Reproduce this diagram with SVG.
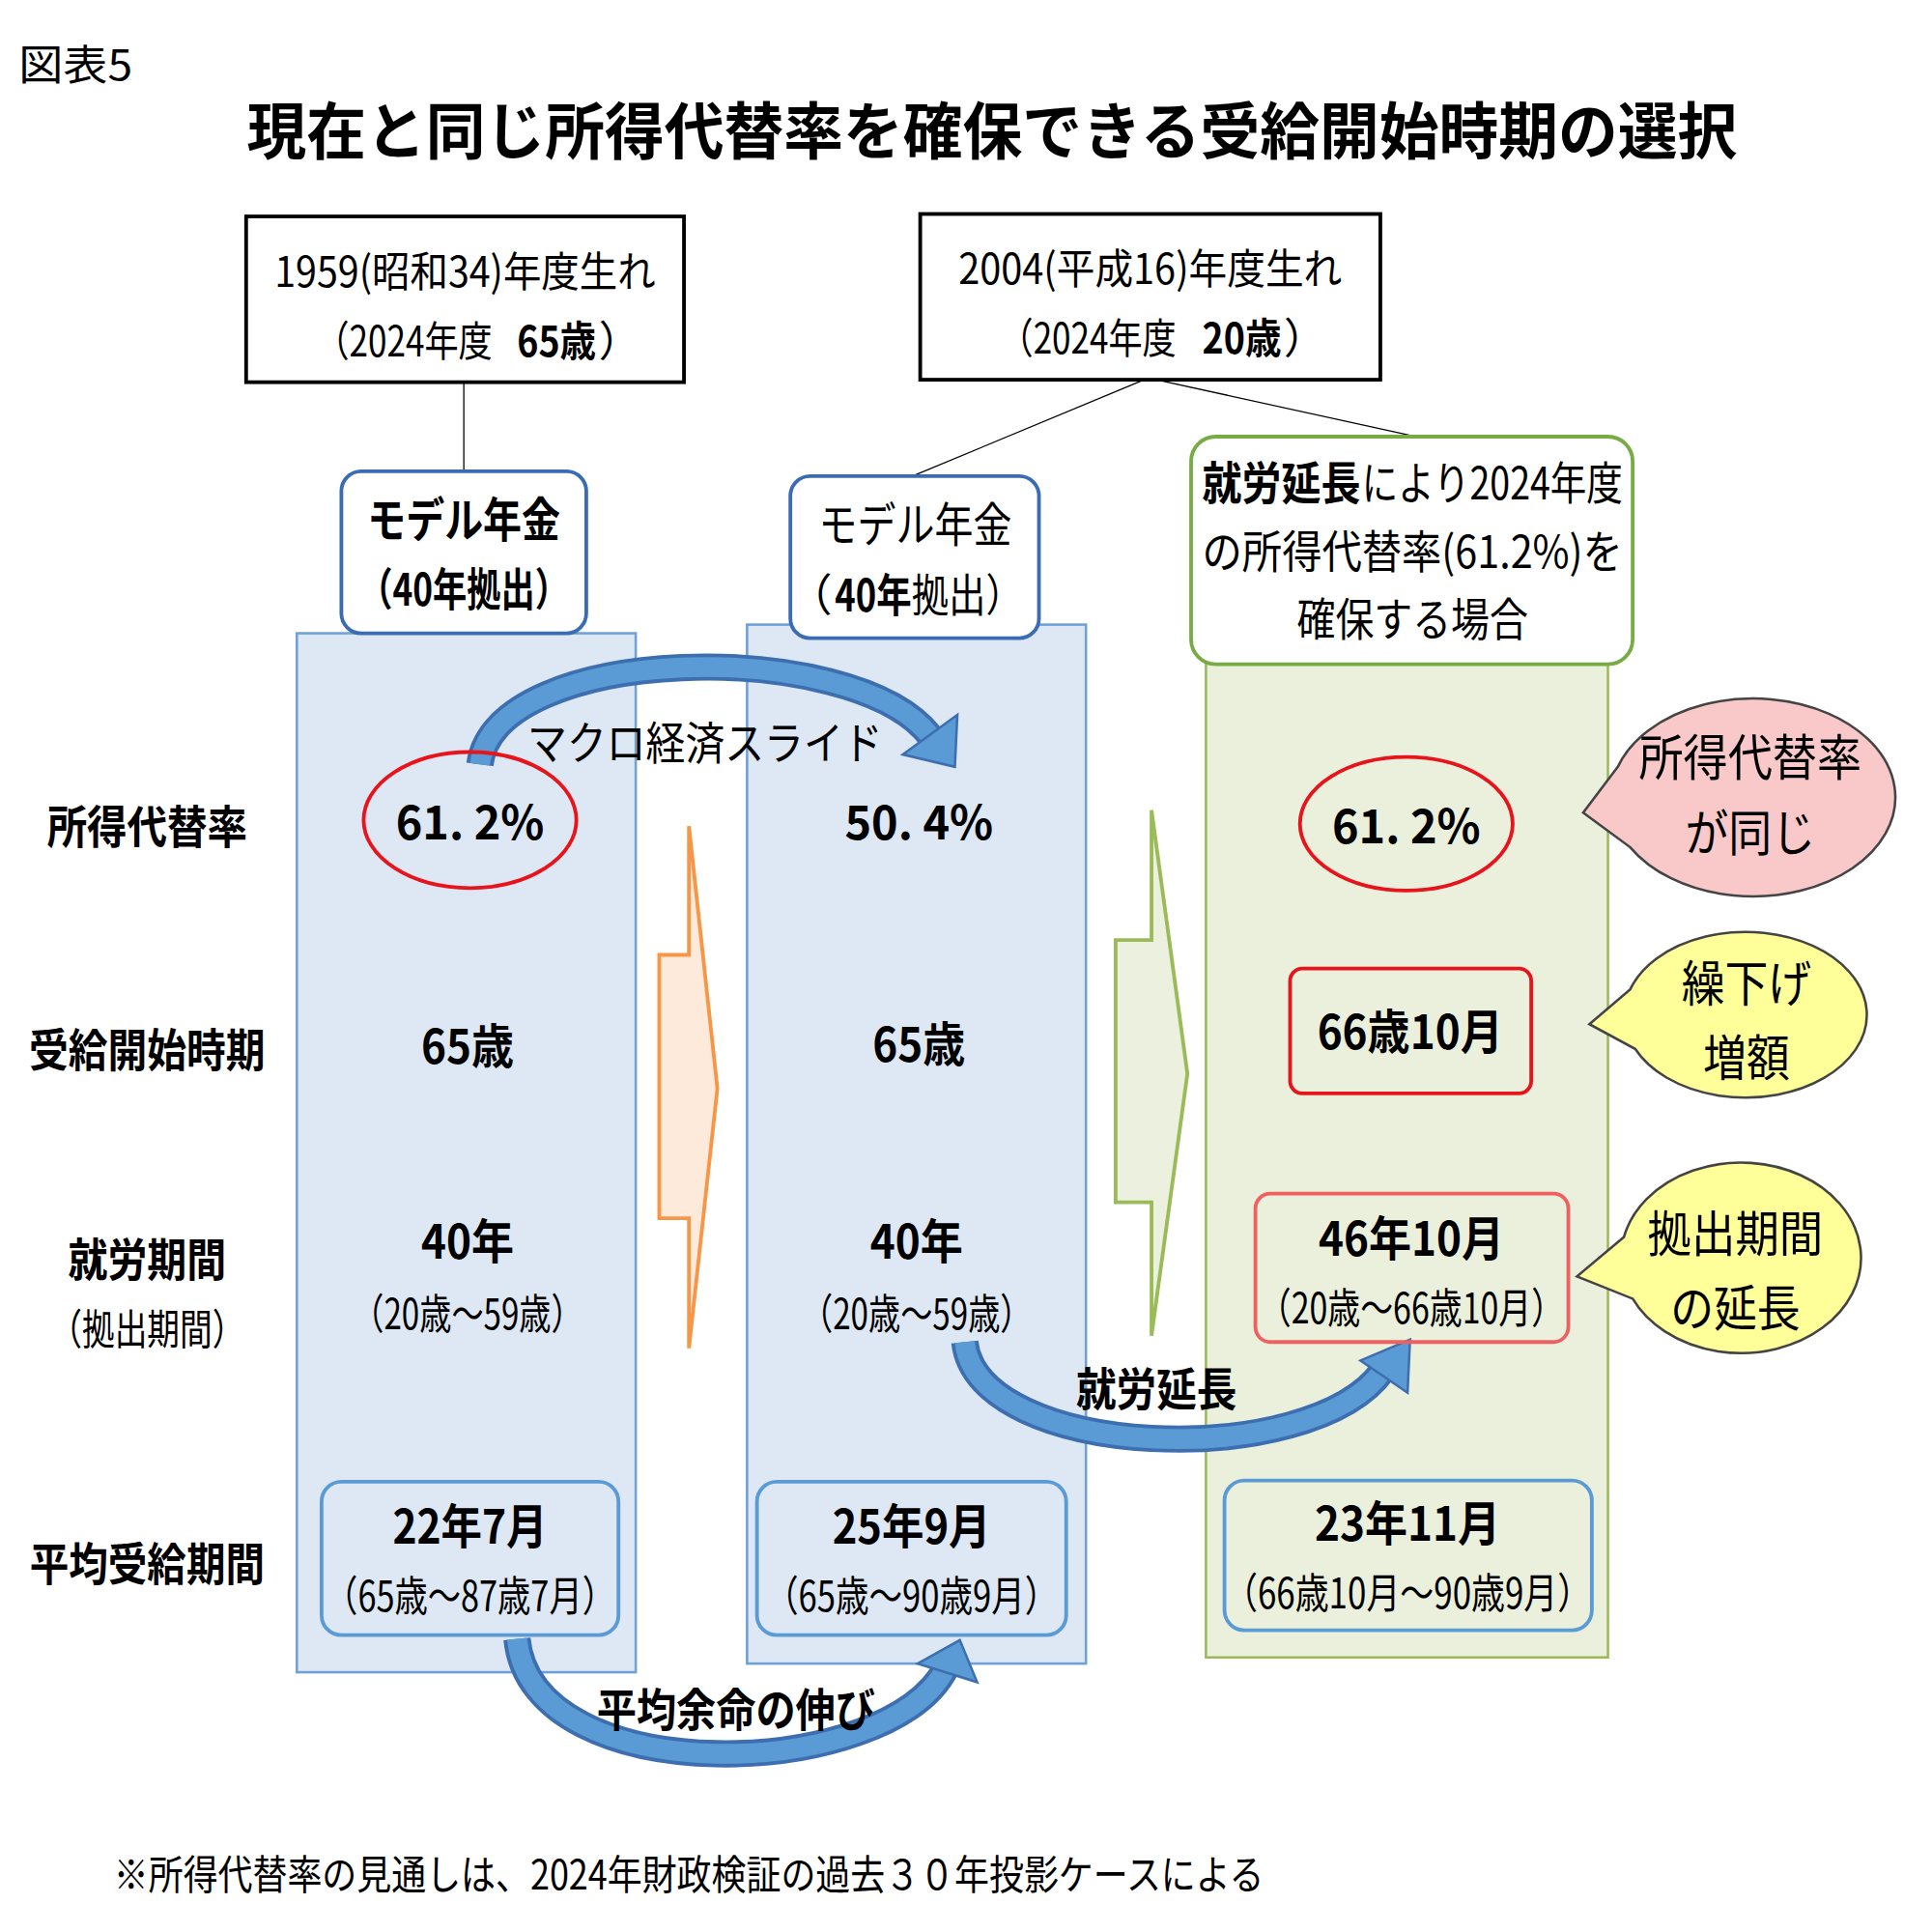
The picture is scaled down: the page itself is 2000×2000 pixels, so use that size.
<svg xmlns="http://www.w3.org/2000/svg" width="2000" height="2000" viewBox="0 0 2000 2000">
<style>
text{font-family:"Noto Sans CJK JP","Liberation Sans",sans-serif;fill:#000;text-anchor:middle}
.s{text-anchor:start}
.b{font-weight:bold}
.bp{fill:#dde8f4;stroke:#6fa0d8;stroke-width:2}
.gp{fill:#ebf0dd;stroke:#9bbb59;stroke-width:2}
.bb{fill:#fff;stroke:#3a6cb5;stroke-width:3}
.rb{fill:none;stroke:#e8141c;stroke-width:3}
.sb{fill:none;stroke:#5b9bd5;stroke-width:3}
.arcO{fill:none;stroke:#3d6fb0;stroke-width:22}
.arcI{fill:none;stroke:#5b9bd5;stroke-width:16}
.ah{fill:#5b9bd5;stroke:#3d6fb0;stroke-width:2}
</style>
<rect width="2000" height="2000" fill="#fff"/>
<g transform="scale(1.2804)">
<text x="15" y="65" class="s" font-size="34" textLength="92" lengthAdjust="spacingAndGlyphs">図表5</text>
<text x="802" y="124" class="b" font-size="50" textLength="1205" lengthAdjust="spacingAndGlyphs">現在と同じ所得代替率を確保できる受給開始時期の選択</text>

<g id="panels">
<rect class="bp" x="240" y="512" width="274" height="840"/>
<rect class="bp" x="604" y="505" width="274" height="840"/>
<rect class="gp" x="975" y="520" width="325" height="820"/>
</g>

<g id="connectors">
<line x1="375" y1="309" x2="375" y2="381" stroke="#000" stroke-width="1"/>
<line x1="925" y1="307" x2="740" y2="384" stroke="#000" stroke-width="1"/>
<line x1="935" y1="307" x2="1140" y2="352" stroke="#000" stroke-width="1"/>
<polygon points="533,772 557,772 557,668 580,880 557,1090 557,985 533,985" fill="#fdeada" stroke="#f79646" stroke-width="3"/>
<polygon points="902,760 931,760 931,655 960,868 931,1080 931,972 902,972" fill="#ebf1de" stroke="#9bbb59" stroke-width="3"/>
<path class="arcO" d="M388,618 C400,520 690,515 752,595"/>
<path class="arcI" d="M388,618 C400,520 690,515 752,595"/>
<polygon class="ah" points="730,610 774,578 772,620"/>
<path class="arcO" d="M780,1085 C790,1180 1060,1190 1118,1108"/>
<path class="arcI" d="M780,1085 C790,1180 1060,1190 1118,1108"/>
<polygon class="ah" points="1100,1100 1140,1083 1138,1126"/>
<path class="arcO" d="M418,1325 C430,1450 720,1440 765,1348"/>
<path class="arcI" d="M418,1325 C430,1450 720,1440 765,1348"/>
<polygon class="ah" points="742,1345 776,1326 790,1360"/>
<text x="570" y="614" font-size="36" textLength="287" lengthAdjust="spacingAndGlyphs">マクロ経済スライド</text>
<text x="935" y="1136" class="b" font-size="36" textLength="130" lengthAdjust="spacingAndGlyphs">就労延長</text>
<text x="595" y="1396" class="b" font-size="36" textLength="225" lengthAdjust="spacingAndGlyphs">平均余命の伸び</text>
</g>

<g id="birth1">
<rect x="199" y="175" width="354" height="134" fill="#fff" stroke="#000" stroke-width="3"/>
<text x="376" y="232" font-size="34" textLength="308" lengthAdjust="spacingAndGlyphs">1959(昭和34)年度生れ</text>
<text x="255" y="288" class="s" font-size="34" textLength="143" lengthAdjust="spacingAndGlyphs">（2024年度</text>
<text x="418" y="288" class="s b" font-size="34" textLength="64" lengthAdjust="spacingAndGlyphs">65歳</text>
<text x="484" y="288" class="s" font-size="34">）</text>
</g>
<g id="birth2">
<rect x="744" y="173" width="372" height="134" fill="#fff" stroke="#000" stroke-width="3"/>
<text x="930" y="230" font-size="34" textLength="310" lengthAdjust="spacingAndGlyphs">2004(平成16)年度生れ</text>
<text x="808" y="286" class="s" font-size="34" textLength="143" lengthAdjust="spacingAndGlyphs">（2024年度</text>
<text x="972" y="286" class="s b" font-size="34" textLength="64" lengthAdjust="spacingAndGlyphs">20歳</text>
<text x="1038" y="286" class="s" font-size="34">）</text>
</g>

<g id="model1">
<rect class="bb" x="276" y="381" width="198" height="131" rx="16"/>
<text x="375" y="434" class="b" font-size="38" textLength="156" lengthAdjust="spacingAndGlyphs">モデル年金</text>
<text x="375" y="490" class="b" font-size="36" textLength="170" lengthAdjust="spacingAndGlyphs">（40年拠出）</text>
</g>
<g id="model2">
<rect class="bb" x="639" y="385" width="201" height="131" rx="16"/>
<text x="740" y="438" font-size="38" textLength="156" lengthAdjust="spacingAndGlyphs">モデル年金</text>
<text x="637" y="494" class="s" font-size="36">（</text>
<text x="675" y="494" class="s b" font-size="36" textLength="62" lengthAdjust="spacingAndGlyphs">40年</text>
<text x="737" y="494" class="s" font-size="36" textLength="90" lengthAdjust="spacingAndGlyphs">拠出）</text>
</g>
<g id="case">
<rect x="963" y="353" width="357" height="184" rx="20" fill="#fff" stroke="#77ac45" stroke-width="3"/>
<text x="972" y="404" class="s b" font-size="36" textLength="128" lengthAdjust="spacingAndGlyphs">就労延長</text>
<text x="1101" y="404" class="s" font-size="36" textLength="211" lengthAdjust="spacingAndGlyphs">により2024年度</text>
<text x="1142" y="459" font-size="36" textLength="340" lengthAdjust="spacingAndGlyphs">の所得代替率(61.2%)を</text>
<text x="1142" y="514" font-size="36" textLength="187" lengthAdjust="spacingAndGlyphs">確保する場合</text>
</g>

<g id="labels">
<text x="119" y="682" class="b" font-size="36" textLength="162" lengthAdjust="spacingAndGlyphs">所得代替率</text>
<text x="119" y="862" class="b" font-size="36" textLength="191" lengthAdjust="spacingAndGlyphs">受給開始時期</text>
<text x="119" y="1032" class="b" font-size="36" textLength="128" lengthAdjust="spacingAndGlyphs">就労期間</text>
<text x="119" y="1087" font-size="34" textLength="158" lengthAdjust="spacingAndGlyphs">（拠出期間）</text>
<text x="119" y="1278" class="b" font-size="36" textLength="190" lengthAdjust="spacingAndGlyphs">平均受給期間</text>
</g>

<g id="col1">
<ellipse class="rb" cx="380" cy="663" rx="86" ry="55"/>
<text x="380" y="679" class="b" font-size="38" textLength="120" lengthAdjust="spacingAndGlyphs">61. 2%</text>
<text x="378" y="860" class="b" font-size="38" textLength="75" lengthAdjust="spacingAndGlyphs">65歳</text>
<text x="378" y="1018" class="b" font-size="38" textLength="75" lengthAdjust="spacingAndGlyphs">40年</text>
<text x="378" y="1075" font-size="34" textLength="187" lengthAdjust="spacingAndGlyphs">（20歳～59歳）</text>
<rect class="sb" x="260" y="1198" width="240" height="124" rx="16"/>
<text x="380" y="1248" class="b" font-size="38" textLength="125" lengthAdjust="spacingAndGlyphs">22年7月</text>
<text x="380" y="1303" font-size="34" textLength="235" lengthAdjust="spacingAndGlyphs">（65歳～87歳7月）</text>
</g>
<g id="col2">
<text x="743" y="679" class="b" font-size="38" textLength="120" lengthAdjust="spacingAndGlyphs">50. 4%</text>
<text x="743" y="858" class="b" font-size="38" textLength="75" lengthAdjust="spacingAndGlyphs">65歳</text>
<text x="741" y="1018" class="b" font-size="38" textLength="75" lengthAdjust="spacingAndGlyphs">40年</text>
<text x="741" y="1075" font-size="34" textLength="187" lengthAdjust="spacingAndGlyphs">（20歳～59歳）</text>
<rect class="sb" x="612" y="1198" width="250" height="124" rx="16"/>
<text x="737" y="1248" class="b" font-size="38" textLength="128" lengthAdjust="spacingAndGlyphs">25年9月</text>
<text x="737" y="1303" font-size="34" textLength="237" lengthAdjust="spacingAndGlyphs">（65歳～90歳9月）</text>
</g>
<g id="col3">
<ellipse class="rb" cx="1137" cy="666" rx="86" ry="54"/>
<text x="1137" y="682" class="b" font-size="38" textLength="120" lengthAdjust="spacingAndGlyphs">61. 2%</text>
<rect class="rb" x="1043" y="783" width="195" height="101" rx="10"/>
<text x="1140" y="848" class="b" font-size="38" textLength="150" lengthAdjust="spacingAndGlyphs">66歳10月</text>
<rect x="1015" y="965" width="253" height="120" rx="12" fill="none" stroke="#f06060" stroke-width="3"/>
<text x="1141" y="1015" class="b" font-size="38" textLength="150" lengthAdjust="spacingAndGlyphs">46年10月</text>
<text x="1141" y="1070" font-size="34" textLength="247" lengthAdjust="spacingAndGlyphs">（20歳～66歳10月）</text>
<rect class="sb" x="990" y="1197" width="297" height="121" rx="16"/>
<text x="1138" y="1246" class="b" font-size="38" textLength="150" lengthAdjust="spacingAndGlyphs">23年11月</text>
<text x="1138" y="1300" font-size="34" textLength="297" lengthAdjust="spacingAndGlyphs">（66歳10月～90歳9月）</text>
</g>

<g id="callout1">
<path d="M1308,620 L1280,657 L1318,685 A115 80 0 1 0 1308,620 Z" fill="#f9c8c8" stroke="#444" stroke-width="2"/>
<text x="1415" y="627" font-size="40" textLength="180" lengthAdjust="spacingAndGlyphs">所得代替率</text>
<text x="1415" y="688" font-size="40" textLength="105" lengthAdjust="spacingAndGlyphs">が同じ</text>
</g>
<g id="callout2">
<path d="M1318,800 L1285,828 L1322,848 A98 67 0 1 0 1318,800 Z" fill="#ffff99" stroke="#444" stroke-width="2"/>
<text x="1412" y="810" font-size="40" textLength="105" lengthAdjust="spacingAndGlyphs">繰下げ</text>
<text x="1412" y="870" font-size="40" textLength="70" lengthAdjust="spacingAndGlyphs">増額</text>
</g>
<g id="callout3">
<path d="M1313,1000 L1275,1032 L1320,1050 A97 77 0 1 0 1313,1000 Z" fill="#ffff99" stroke="#444" stroke-width="2"/>
<text x="1403" y="1012" font-size="40" textLength="142" lengthAdjust="spacingAndGlyphs">拠出期間</text>
<text x="1403" y="1072" font-size="40" textLength="105" lengthAdjust="spacingAndGlyphs">の延長</text>
</g>

<text x="92" y="1528" class="s" font-size="33" textLength="930" lengthAdjust="spacingAndGlyphs">※所得代替率の見通しは、2024年財政検証の過去３０年投影ケースによる</text>
</g>
</svg>
